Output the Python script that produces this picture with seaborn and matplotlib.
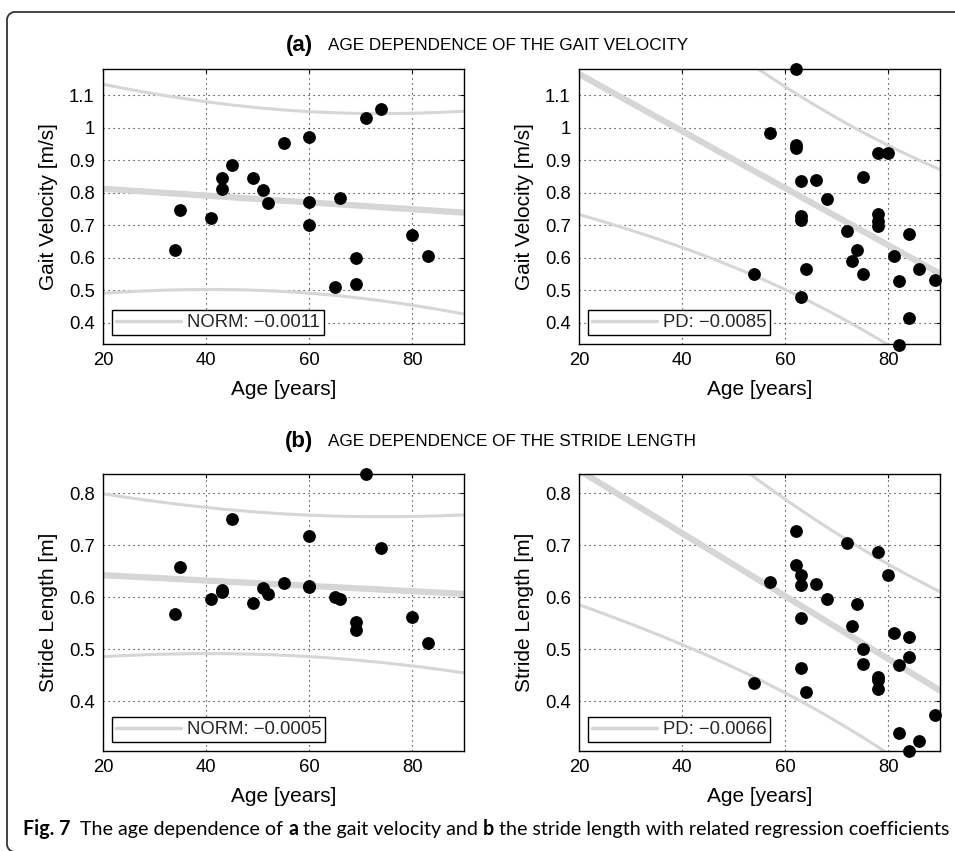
import numpy as np
import matplotlib
matplotlib.use("Agg")
import matplotlib.pyplot as plt
from matplotlib.lines import Line2D
import seaborn as sns

# ---------------- data ----------------
norm_age_vel = [34, 35, 41, 43, 43, 45, 49, 51, 52, 55, 60, 60, 60, 65, 66, 69, 69, 71, 74, 80, 83]
norm_vel = [0.623, 0.748, 0.723, 0.846, 0.810, 0.885, 0.846, 0.809, 0.767, 0.953, 0.970,
            0.772, 0.702, 0.511, 0.784, 0.598, 0.520, 1.030, 1.056, 0.670, 0.606]

pd_age_vel = [54, 57, 62, 62, 62, 63, 63, 63, 63, 64, 66, 68, 72, 73, 74, 75, 75,
              78, 78, 78, 78, 80, 81, 82, 82, 84, 84, 86, 89]
pd_vel = [0.551, 0.983, 1.180, 0.946, 0.936, 0.837, 0.729, 0.716, 0.478, 0.565, 0.839,
          0.781, 0.683, 0.591, 0.623, 0.848, 0.549, 0.921, 0.733, 0.714, 0.698, 0.923,
          0.605, 0.529, 0.333, 0.673, 0.416, 0.566, 0.531]

norm_age_len = [34, 35, 41, 43, 43, 45, 49, 51, 52, 55, 60, 60, 60, 65, 66, 69, 69, 71, 74, 80, 83]
norm_len = [0.568, 0.659, 0.596, 0.614, 0.610, 0.751, 0.588, 0.617, 0.606, 0.627, 0.718,
            0.622, 0.620, 0.601, 0.596, 0.552, 0.537, 0.837, 0.694, 0.561, 0.511]

pd_age_len = [54, 57, 62, 62, 63, 63, 63, 63, 64, 66, 68, 72, 73, 74, 75, 75,
              78, 78, 78, 78, 80, 81, 82, 82, 84, 84, 84, 86, 89]
pd_len = [0.435, 0.629, 0.727, 0.661, 0.642, 0.623, 0.559, 0.463, 0.417, 0.625, 0.596,
          0.704, 0.544, 0.587, 0.500, 0.471, 0.686, 0.447, 0.440, 0.424, 0.642, 0.532,
          0.469, 0.338, 0.524, 0.484, 0.304, 0.323, 0.374]

legend_labels = ["NORM: \u22120.0011", "PD: \u22120.0085", "NORM: \u22120.0005", "PD: \u22120.0066"]
row_tags = ["(a)", "(b)"]
row_titles = ["AGE DEPENDENCE OF THE GAIT VELOCITY", "AGE DEPENDENCE OF THE STRIDE LENGTH"]
y_labels = ["Gait Velocity [m/s]", "Stride Length [m]"]
x_label = "Age [years]"
x_ticks = [20, 40, 60, 80]
vel_ticks = [0.4, 0.5, 0.6, 0.7, 0.8, 0.9, 1.0, 1.1]
vel_tick_labels = ["0.4", "0.5", "0.6", "0.7", "0.8", "0.9", "1", "1.1"]
len_ticks = [0.4, 0.5, 0.6, 0.7, 0.8]
len_tick_labels = ["0.4", "0.5", "0.6", "0.7", "0.8"]
caption_parts = [("Fig. 7", "bold"), ("  The age dependence of ", "normal"), ("a", "bold"),
                 (" the gait velocity and ", "normal"), ("b", "bold"),
                 (" the stride length with related regression coefficients", "normal")]

# ---------------- style ----------------
sns.set_theme(style="white")
plt.rcParams["font.family"] = ["Liberation Sans", "DejaVu Sans"]
plt.rcParams["axes.unicode_minus"] = True

W, H = 955, 851
fig = plt.figure(figsize=(W / 100, H / 100), dpi=100)
fig.patch.set_facecolor("white")

GRAY = (0.84, 0.84, 0.84)


def tval(df):
    # two-sided 90 % prediction interval
    try:
        from scipy import stats
        return stats.t.ppf(0.95, df)
    except Exception:
        table = {19: 1.729, 27: 1.703}
        return table.get(df, 1.71)


def fit_band(x, y, grid):
    x = np.asarray(x, float)
    y = np.asarray(y, float)
    n = len(x)
    slope, icpt = np.polyfit(x, y, 1)
    resid = y - (slope * x + icpt)
    s = np.sqrt(np.sum(resid ** 2) / (n - 2))
    xm = x.mean()
    sxx = np.sum((x - xm) ** 2)
    fit = slope * grid + icpt
    se = s * np.sqrt(1 + 1 / n + (grid - xm) ** 2 / sxx)
    t = tval(n - 2)
    return fit, fit - t * se, fit + t * se


def px_rect(x0, y0, x1, y1):
    return [x0 / W, 1 - y1 / H, (x1 - x0) / W, (y1 - y0) / H]


panels = [
    (px_rect(103, 69, 464, 344), norm_age_vel, norm_vel, (0.335, 1.18), vel_ticks, vel_tick_labels, 0, 0),
    (px_rect(579, 69, 940, 344), pd_age_vel, pd_vel, (0.335, 1.18), vel_ticks, vel_tick_labels, 1, 0),
    (px_rect(103, 474, 464, 751), norm_age_len, norm_len, (0.304, 0.837), len_ticks, len_tick_labels, 2, 1),
    (px_rect(579, 474, 940, 751), pd_age_len, pd_len, (0.304, 0.837), len_ticks, len_tick_labels, 3, 1),
]

grid = np.linspace(20, 90, 200)
for rect, xs, ys, ylim, yt, ytl, li, row in panels:
    ax = fig.add_axes(rect)
    ax.set_facecolor("white")
    fit, lo, hi = fit_band(xs, ys, grid)
    sns.lineplot(x=grid, y=fit, ax=ax, color=GRAY, lw=4.5, legend=False, zorder=2)
    sns.lineplot(x=grid, y=lo, ax=ax, color=GRAY, lw=2.2, legend=False, zorder=2)
    sns.lineplot(x=grid, y=hi, ax=ax, color=GRAY, lw=2.2, legend=False, zorder=2)
    sns.scatterplot(x=xs, y=ys, ax=ax, color="black", edgecolor="black", s=85,
                    linewidth=0, clip_on=False, zorder=4, legend=False)
    ax.set_xlim(20, 90)
    ax.set_ylim(*ylim)
    ax.set_xticks(x_ticks)
    ax.set_xticklabels([str(v) for v in x_ticks])
    ax.set_yticks(yt)
    ax.set_yticklabels(ytl)
    ax.tick_params(direction="in", length=3, width=0.8, labelsize=13.3, colors="black",
                   top=True, right=True, pad=6)
    ax.grid(True, linestyle=(0, (1, 3.5)), color="black", lw=0.8, alpha=0.9)
    for sp in ax.spines.values():
        sp.set_color("black")
        sp.set_linewidth(1.0)
    ax.set_xlabel(x_label, fontsize=15, color="black", labelpad=8)
    ax.set_ylabel(y_labels[row], fontsize=15, color="black", labelpad=8)
    h = Line2D([], [], color=GRAY, lw=2.5)
    leg = ax.legend([h], [legend_labels[li]], loc="lower left", fontsize=13.3,
                    frameon=True, fancybox=False, edgecolor="black", framealpha=1,
                    handlelength=3.5, handletextpad=0.35, borderpad=0.2,
                    borderaxespad=0.5)
    leg.get_frame().set_linewidth(1.0)
    leg.set_zorder(10)

# row titles
for tag, title, yc in zip(row_tags, row_titles, [46, 442]):
    fig.text(313 / W, 1 - yc / H, tag, ha="right", va="center", fontsize=16,
             fontweight="bold", color="black")
    fig.text(328 / W, 1 - yc / H, title, ha="left", va="center", fontsize=12.3,
             color="black")

# outer frame: left edge and top edge with rounded corners (pixel coords)
r = 8.0
left_x, top_y, bot_y = 7.0, 12.0, 852.0
th_top = np.linspace(np.pi, np.pi / 2, 20)
th_bot = np.linspace(np.pi, 3 * np.pi / 2, 20)
fx = np.concatenate([
    (left_x + r) + r * np.cos(th_bot[::-1]),
    (left_x + r) + r * np.cos(th_top),
    [W + 10],
])
fy = np.concatenate([
    (bot_y - r) - r * np.sin(th_bot[::-1]),
    (top_y + r) - r * np.sin(th_top),
    [top_y],
])
fig.add_artist(Line2D(fx / W, 1 - fy / H, transform=fig.transFigure,
                      color="#333333", lw=1.3, solid_capstyle="butt"))

# caption, pieces laid out in sequence and fitted to the available width
renderer = fig.canvas.get_renderer()
cap_fam = ["Lato", "DejaVu Sans"]


def layout_caption(size):
    texts = []
    x = 23
    for s, wt in caption_parts:
        t = fig.text(x / W, 1 - 829 / H, s, ha="left", va="center", fontsize=size,
                     fontweight=wt, family=cap_fam, color="black")
        texts.append(t)
        x += t.get_window_extent(renderer).width
    return texts, x - 23


texts, width = layout_caption(12)
for t in texts:
    t.remove()
size = 12 * 920 / width
texts, width = layout_caption(size)

fig.savefig("out.png", dpi=100, facecolor="white")
